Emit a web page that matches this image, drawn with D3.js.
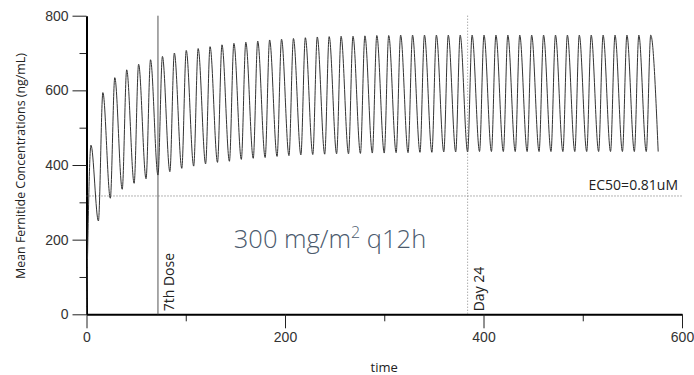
<!DOCTYPE html>
<html>
<head>
<meta charset="utf-8">
<script src="https://cdn.jsdelivr.net/npm/d3@7"></script>
<style>
  body { margin: 0; background: #fff; }
  svg { font-family: "Open Sans", sans-serif; }
  .axis text { font-size: 14px; fill: #333; }
  .axis line { stroke: #222; }
  .axis .domain { stroke: #000; stroke-width: 2; }
</style>
</head>
<body>
<div id="chart"></div>
<script>
/* DATA */
const troughHours = [0, 12, 24, 36, 48, 60, 72, 84, 96, 108, 120, 132, 144, 156, 168, 180, 192, 204, 216, 228,
  240, 252, 264, 276, 288, 300, 312, 324, 336, 348, 360, 372, 384, 396, 408, 420, 432, 444, 456, 468,
  480, 492, 504, 516, 528, 540, 552, 564, 576];
const troughConc = [0, 250, 311, 335, 351, 363, 373, 382, 391, 397, 403, 407, 410, 415, 418, 420, 423, 425, 427, 428,
  429, 430, 430, 431, 432, 432, 433, 433, 434, 434, 435, 435, 435, 436, 436, 436, 436, 436, 436, 436,
  436, 436, 436, 436, 436, 436, 436, 436, 436];
const peakHours = [4.5, 16.5, 28.5, 40.5, 52.5, 64.5, 76.5, 88.5, 100.5, 112.5, 124.5, 136.5, 148.5, 160.5, 172.5, 184.5,
  196.5, 208.5, 220.5, 232.5, 244.5, 256.5, 268.5, 280.5, 292.5, 304.5, 316.5, 328.5, 340.5, 352.5, 364.5, 376.5,
  388.5, 400.5, 412.5, 424.5, 436.5, 448.5, 460.5, 472.5, 484.5, 496.5, 508.5, 520.5, 532.5, 544.5, 556.5, 568.5];
const peakConc = [453, 594, 634, 655, 670, 682, 691, 700, 707, 712, 717, 722, 726, 729, 732, 735,
  737, 739, 741, 743, 744, 745, 745, 746, 747, 747, 748, 748, 748, 748, 748, 748,
  748, 748, 748, 748, 748, 748, 748, 748, 748, 748, 748, 748, 748, 748, 748, 748];

const xTicks = [0, 200, 400, 600];
const xMinorTicks = [100, 300, 500];
const yTicks = [0, 200, 400, 600, 800];
const yMinorTicks = [100, 300, 500, 700];

const markerHours = [72, 384];
const markerLabels = ["7th Dose", "Day 24"];
const ec50 = 317;
const ec50Label = "EC50=0.81uM";

/* CONSTANTS */
const width = 694;
const height = 375;

const points = troughHours.map((t, i) => ({ t: t, c: troughConc[i] }))
  .concat(peakHours.map((t, i) => ({ t: t, c: peakConc[i] })))
  .sort((a, b) => a.t - b.t);

const svg = d3.select("#chart")
  .append("svg")
  .attr("width", width)
  .attr("height", height);

/* SCALES */
const xScale = d3.scaleLinear()
  .domain([0, 600])
  .range([86.5, 682]);

const yScale = d3.scaleLinear()
  .domain([0, 800])
  .range([314.3, 15.7]);

// minor ticks first, major on top
svg.append("g")
  .attr("class", "axis")
  .attr("transform", "translate(0," + yScale(0) + ")")
  .call(d3.axisBottom(xScale).tickValues(xMinorTicks).tickSize(7).tickFormat(""))
  .call(g => g.select(".domain").remove());

svg.append("g")
  .attr("class", "axis")
  .attr("transform", "translate(" + xScale(0) + ",0)")
  .call(d3.axisLeft(yScale).tickValues(yMinorTicks).tickSize(7).tickFormat(""))
  .call(g => g.select(".domain").remove());

svg.append("g")
  .attr("class", "axis")
  .attr("transform", "translate(0," + yScale(0) + ")")
  .call(d3.axisBottom(xScale).tickValues(xTicks).tickSize(14).tickSizeOuter(0).tickPadding(4));

svg.append("g")
  .attr("class", "axis")
  .attr("transform", "translate(" + xScale(0) + ",0)")
  .call(d3.axisLeft(yScale).tickValues(yTicks).tickSize(14).tickSizeOuter(0).tickPadding(4));

// EC50 line
svg.append("line")
  .attr("x1", xScale(0))
  .attr("x2", xScale(600))
  .attr("y1", yScale(ec50))
  .attr("y2", yScale(ec50))
  .attr("stroke", "#666")
  .attr("stroke-width", 1)
  .attr("stroke-dasharray", "1,2");

svg.append("text")
  .attr("x", 678)
  .attr("y", yScale(ec50) - 6)
  .attr("text-anchor", "end")
  .style("font-size", "14px")
  .attr("fill", "#222")
  .text(ec50Label);

// marker lines
svg.append("line")
  .attr("x1", xScale(markerHours[0]))
  .attr("x2", xScale(markerHours[0]))
  .attr("y1", yScale(800))
  .attr("y2", yScale(0))
  .attr("stroke", "#555")
  .attr("stroke-width", 1);

svg.append("line")
  .attr("x1", xScale(markerHours[1]))
  .attr("x2", xScale(markerHours[1]))
  .attr("y1", yScale(800))
  .attr("y2", yScale(0))
  .attr("stroke", "#888")
  .attr("stroke-width", 1)
  .attr("stroke-dasharray", "1,2");

markerLabels.forEach((lab, i) => {
  const tx = xScale(markerHours[i]) + 16;
  const ty = yScale(0) - 3;
  svg.append("text")
    .attr("transform", "translate(" + tx + "," + ty + ") rotate(-90)")
    .style("font-size", "14px")
    .attr("fill", "#222")
    .text(lab);
});

// concentration curve
const line = d3.line()
  .x(d => xScale(d.t))
  .y(d => yScale(d.c))
  .curve(d3.curveMonotoneX);

svg.append("path")
  .datum(points)
  .attr("fill", "none")
  .attr("stroke", "#333")
  .attr("stroke-width", 1)
  .attr("d", line);

// big annotation
const title = svg.append("text")
  .attr("x", 330)
  .attr("y", 248)
  .attr("text-anchor", "middle")
  .attr("fill", "#4b5a6d")
  .style("font-size", "25.5px")
  .style("font-weight", "300");
title.append("tspan").text("300 mg/m");
title.append("tspan").attr("dy", -10).style("font-size", "16px").text("2");
title.append("tspan").attr("dy", 10).text(" q12h");

// axis titles
svg.append("text")
  .attr("x", xScale(300))
  .attr("y", 372)
  .attr("text-anchor", "middle")
  .style("font-size", "13px")
  .attr("fill", "#222")
  .text("time");

svg.append("text")
  .attr("transform", "rotate(-90)")
  .attr("x", -166)
  .attr("y", 25)
  .attr("text-anchor", "middle")
  .style("font-size", "12.4px")
  .attr("fill", "#222")
  .text("Mean Fernitide Concentrations (ng/mL)");
</script>
</body>
</html>
